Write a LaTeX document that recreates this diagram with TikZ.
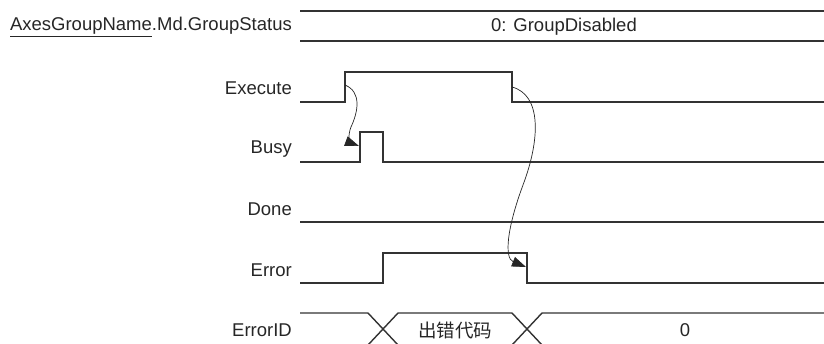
\documentclass[tikz,border=0pt]{standalone}
\usepackage{fontspec}
\setmainfont{Liberation Sans}
\newfontfamily\cjk{Noto Sans CJK SC}
\usetikzlibrary{arrows.meta}
\begin{document}
\begin{tikzpicture}[x=1pt,y=-1pt,
  sig/.style={line width=1.4pt,draw=black!80,line join=miter},
  lbl/.style={anchor=east,inner sep=0pt,font=\fontsize{18.5}{20}\selectfont,text=black!85},
  val/.style={inner sep=0pt,font=\fontsize{18.5}{20}\selectfont,text=black!85},
  flow/.style={line width=0.7pt,draw=black!85,-{Triangle[length=14pt,width=10pt]}}]
\useasboundingbox (0,0) rectangle (824,343);
% labels
\node[lbl] (lgs) at (292,27) {\underline{AxesGroupName}.Md.GroupStatus};
\node[lbl] (lex) at (292,88) {Execute};
\node[lbl] (lbu) at (292,149) {Busy};
\node[lbl] (ldo) at (292,209) {Done};
\node[lbl] (ler) at (292,270) {Error};
\node[lbl] (lei) at (292,330) {ErrorID};
% GroupStatus bus
\draw[sig] (300,11) -- (824,11);
\draw[sig] (300,41) -- (824,41);
\node[val] (gsv) at (564,27) {0: GroupDisabled};
% Execute
\coordinate (exr) at (345,85);
\coordinate (exf) at (512,87);
\draw[sig] (300,102) -- (345,102) -- (345,72) -- (512,72) -- (512,102) -- (824,102);
% Busy
\coordinate (bur) at (359,146);
\draw[sig] (300,162) -- (360,162) -- (360,132) -- (383,132) -- (383,162) -- (824,162);
% Done
\draw[sig] (300,222) -- (824,222);
% Error
\coordinate (erf) at (526,267);
\draw[sig] (300,283) -- (383,283) -- (383,253) -- (527,253) -- (527,283) -- (824,283);
% ErrorID bus
\draw[sig] (300,313) -- (368,313) -- (398,345);
\draw[sig] (368,345) -- (398,313) -- (512,313) -- (542,345);
\draw[sig] (512,345) -- (542,313) -- (824,313);
\node[val] (eic) at (455,330) {\cjk 出错代码};
\node[val] (eiz) at (685,330) {0};
% causal arrows
\draw[flow] (exr) .. controls (362,92) and (358,112) .. (351,127) .. controls (347,137) and (351,143) .. (bur);
\draw[flow] (exf) .. controls (542,95) and (540,140) .. (523,185) .. controls (507,228) and (504,258) .. (erf);
\end{tikzpicture}
\end{document}
